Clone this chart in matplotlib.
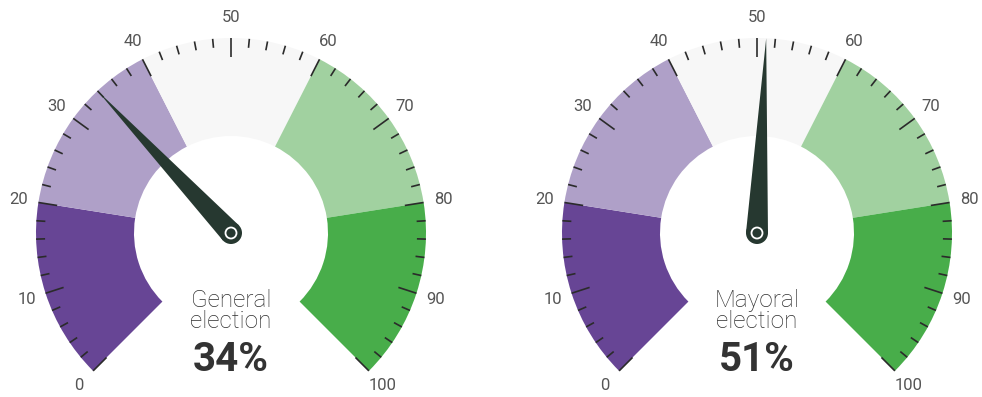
import numpy as np
import matplotlib
matplotlib.use('Agg')
import matplotlib.pyplot as plt
from matplotlib.patches import Wedge, Circle, Polygon

# 数据
titles = ['General\nelection', 'Mayoral\nelection']
values = [34, 51]
band_edges = [0, 20, 40, 60, 80, 100]
band_colors = ['#674595', '#afa0c8', '#f7f7f7', '#a1d1a0', '#48ad4a']
tick_labels = [0, 10, 20, 30, 40, 50, 60, 70, 80, 90, 100]

plt.rcParams['font.family'] = ['Roboto', 'DejaVu Sans']

W, H = 982, 397
fig = plt.figure(figsize=(W / 100, H / 100), dpi=100)
ax = fig.add_axes([0, 0, 1, 1])
ax.set_xlim(0, W)
ax.set_ylim(0, H)
ax.set_aspect('equal')
ax.axis('off')

centers = [(231, H - 233), (757, H - 233)]
r_out, r_in = 195, 97


def ang(v):
    # 0 在左下, 100 在右下, 共270度
    return 225 - 2.7 * v


for (cx, cy), title, val in zip(centers, titles, values):
    # 色带
    for i, col in enumerate(band_colors):
        ax.add_patch(Wedge((cx, cy), r_out, ang(band_edges[i + 1]), ang(band_edges[i]),
                           width=r_out - r_in, facecolor=col, edgecolor='none'))
    # 刻度
    for v in range(0, 101, 2):
        t = np.radians(ang(v))
        ln = 19 if v % 10 == 0 else 9
        ax.plot([cx + r_out * np.cos(t), cx + (r_out - ln) * np.cos(t)],
                [cy + r_out * np.sin(t), cy + (r_out - ln) * np.sin(t)],
                color='#2b2b2b', lw=1.2, solid_capstyle='butt')
    for v in tick_labels:
        t = np.radians(ang(v))
        ax.text(cx + 215 * np.cos(t), cy + 215 * np.sin(t), str(v),
                ha='center', va='center', fontsize=12, color='#555555')
    # 指针
    t = np.radians(ang(val))
    tip = (cx + r_out * np.cos(t), cy + r_out * np.sin(t))
    px, py = -np.sin(t), np.cos(t)
    hw = 11
    ax.add_patch(Polygon([tip, (cx + hw * px, cy + hw * py), (cx - hw * px, cy - hw * py)],
                         closed=True, facecolor='#263830', edgecolor='none', zorder=5))
    ax.add_patch(Circle((cx, cy), hw, facecolor='#263830', edgecolor='none', zorder=5))
    ax.add_patch(Circle((cx, cy), 5.5, facecolor='#263830', edgecolor='white', lw=1.3, zorder=6))
    # 文字
    ax.text(cx, H - 311, title, ha='center', va='center', fontsize=17.5, color='#2e2e2e',
            fontweight='light', linespacing=0.85)
    ax.text(cx, H - 360, f'{val}%', ha='center', va='center', fontsize=29,
            color='#333333', fontweight='bold')

fig.savefig('out.png', dpi=100)
